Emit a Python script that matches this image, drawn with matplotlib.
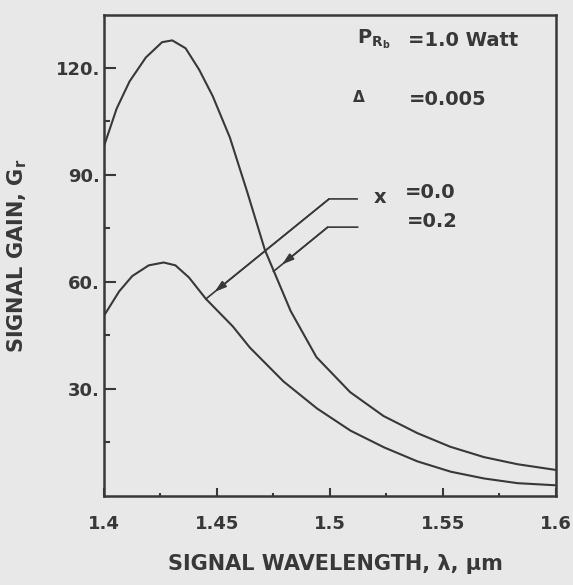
import matplotlib.pyplot as plt
from matplotlib.ticker import FixedLocator

# Signal gain vs signal wavelength for two values of x
wl_x02 = [1.400, 1.4056, 1.4113, 1.4185, 1.4257, 1.4302, 1.4361, 1.4421, 1.4481,
          1.4557, 1.4634, 1.4712, 1.4758, 1.4826, 1.4940, 1.5089, 1.5237, 1.5387,
          1.5532, 1.5681, 1.5830, 1.6000]
gain_x02 = [98.0, 108.5, 116.1, 122.8, 127.1, 127.6, 125.4, 119.4, 112.0,
            100.4, 85.1, 68.9, 62.0, 51.8, 38.9, 29.1, 22.4, 17.6,
            13.8, 10.9, 8.9, 7.3]

wl_x00 = [1.400, 1.4067, 1.4125, 1.4198, 1.4264, 1.4316, 1.4376, 1.4451, 1.4570,
          1.4645, 1.4794, 1.4943, 1.5091, 1.5240, 1.5387, 1.5535, 1.5683, 1.5830,
          1.6000]
gain_x00 = [50.5, 57.3, 61.6, 64.6, 65.4, 64.6, 61.2, 55.2, 47.5,
            41.6, 32.1, 24.5, 18.3, 13.6, 9.7, 6.8, 4.9, 3.6,
            3.0]

x_ticks = [1.4, 1.45, 1.5, 1.55, 1.6]
x_ticklabels = ["1.4", "1.45", "1.5", "1.55", "1.6"]
x_minor = [1.425, 1.475, 1.525, 1.575]
y_ticks = [30, 60, 90, 120]
y_ticklabels = ["30.", "60.", "90.", "120."]
y_minor = [15, 45, 75, 105]

# leader lines: end of horizontal stub, corner, tip on the curve
lead_x00_wl = [1.512, 1.4996, 1.4451]
lead_x00_g = [83.2, 83.2, 55.2]
lead_x02_wl = [1.5122, 1.499, 1.475]
lead_x02_g = [75.3, 75.3, 62.9]

BG = "#e8e8e8"
INK = "#383838"

plt.rcParams["font.family"] = "DejaVu Sans"
plt.rcParams["font.weight"] = "bold"
plt.rcParams["axes.labelweight"] = "bold"
plt.rcParams["axes.labelcolor"] = INK
plt.rcParams["mathtext.default"] = "bf"
plt.rcParams["text.color"] = INK

fig = plt.figure(figsize=(5.73, 5.85), dpi=100, facecolor=BG)
ax = fig.add_axes([0.1815, 0.1521, 0.7888, 0.8222], facecolor=BG)

ax.plot(wl_x02, gain_x02, color=INK, lw=1.5)
ax.plot(wl_x00, gain_x00, color=INK, lw=1.5)

for lw_, lg_, frac in [(lead_x00_wl, lead_x00_g, 0.07), (lead_x02_wl, lead_x02_g, 0.157)]:
    ax.plot(lw_, lg_, color=INK, lw=1.2)
    cx, cy = lw_[1], lg_[1]
    tx, ty = lw_[2], lg_[2]
    head = (tx + frac * (cx - tx), ty + frac * (cy - ty))
    ax.annotate("", xy=head, xytext=(cx, cy),
                arrowprops=dict(arrowstyle="-|>,head_length=0.7,head_width=0.22",
                                color=INK, lw=1.2, shrinkA=0, shrinkB=0))

ax.set_xlim(1.4, 1.6)
ax.set_ylim(0, 134.7)
ax.set_xticks(x_ticks)
ax.set_xticklabels(x_ticklabels)
ax.set_yticks(y_ticks)
ax.set_yticklabels(y_ticklabels)
ax.xaxis.set_minor_locator(FixedLocator(x_minor))
ax.yaxis.set_minor_locator(FixedLocator(y_minor))

ax.tick_params(axis="y", which="major", direction="in", length=8.5, width=1.5,
               pad=3, labelsize=13, colors=INK)
ax.tick_params(axis="y", which="minor", direction="in", length=4.3, width=1.5, colors=INK)
ax.tick_params(axis="x", which="major", direction="in", length=6, width=1.5,
               pad=14, labelsize=13, colors=INK)
ax.tick_params(axis="x", which="minor", direction="in", length=2.5, width=1.5, colors=INK)
for sp in ax.spines.values():
    sp.set_color(INK)
    sp.set_linewidth(1.8)

ax.set_xlabel("SIGNAL WAVELENGTH, λ, μm", fontsize=15)
ax.xaxis.set_label_coords(0.513, -0.12)
ax.set_ylabel(r"SIGNAL GAIN, $G_r$", fontsize=15)
ax.yaxis.set_label_coords(-0.165, 0.5)

# parameter block
ax.text(1.512, 128, r"$P_{R_b}$", fontsize=14, ha="left", va="center")
ax.text(1.5345, 127.5, "=1.0 Watt", fontsize=14, ha="left", va="center")
ax.text(1.5128, 111.6, "Δ", fontsize=11, ha="center", va="center")
ax.text(1.5349, 111, "=0.005", fontsize=14, ha="left", va="center")
ax.text(1.5223, 83.5, "x", fontsize=14, ha="center", va="center")
ax.text(1.5333, 85, "=0.0", fontsize=14, ha="left", va="center")
ax.text(1.5338, 77, "=0.2", fontsize=14, ha="left", va="center")

fig.savefig("out.png", dpi=100, facecolor=BG)
